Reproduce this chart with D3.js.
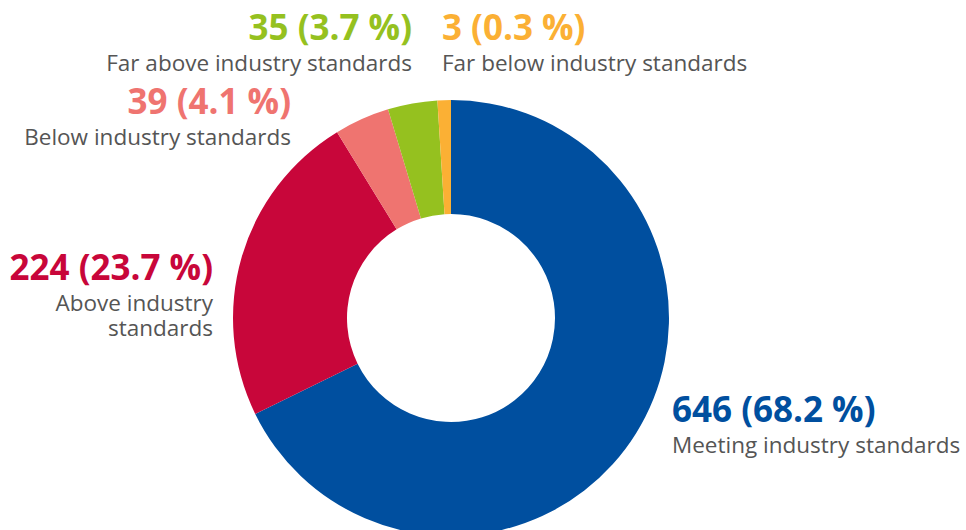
<!DOCTYPE html>
<html><head><meta charset="utf-8">
<script src="https://cdn.jsdelivr.net/npm/d3@7"></script>
<style>body{margin:0;background:#fff;}svg{display:block;font-family:"Open Sans",sans-serif;}</style>
</head><body>
<svg id="c" width="966" height="530"></svg>
<script>
const categories = ["Meeting industry standards","Above industry standards","Below industry standards","Far above industry standards","Far below industry standards"];
const values = [646, 224, 39, 35, 3];
const percents = ["68.2","23.7","4.1","3.7","0.3"];
const colors = ["#004f9f","#c8063a","#ef7470","#95c11f","#fbb034"];
const labelLines = [["Meeting industry standards"],["Above industry","standards"],["Below industry standards"],["Far above industry standards"],["Far below industry standards"]];
// [x, number baseline, anchor]
const labelPos = [[672,422,"start"],[213,280,"end"],[291,114,"end"],[412,40,"end"],[442,40,"start"]];

const svg = d3.select("#c");
const cx = 451, cy = 318, rOuter = 218, rInner = 104;
const total = d3.sum(values);
const minShare = 0.01; // very small slices are shown at a minimum visible size
const pie = d3.pie().sort(null).value(d=>Math.max(d, total*minShare))(values);
const arc = d3.arc().innerRadius(rInner).outerRadius(rOuter);
const g = svg.append("g").attr("transform",`translate(${cx},${cy})`);
g.selectAll("path").data(pie).join("path")
  .attr("d",arc).attr("fill",(d,i)=>colors[i]);

categories.forEach((c,i)=>{
  const [x,y,anchor]=labelPos[i];
  svg.append("text").attr("x",x).attr("y",y).attr("text-anchor",anchor)
    .attr("font-size",35).attr("font-weight",700).attr("fill",colors[i])
    .text(`${values[i]} (${percents[i]} %)`);
  const t = svg.append("text").attr("x",x).attr("y",y+31).attr("text-anchor",anchor)
    .attr("font-size",22.5).attr("fill","#555");
  labelLines[i].forEach((l,j)=>{
    t.append("tspan").attr("x",x).attr("dy",j===0?0:25).text(l);
  });
});
</script>
</body></html>
